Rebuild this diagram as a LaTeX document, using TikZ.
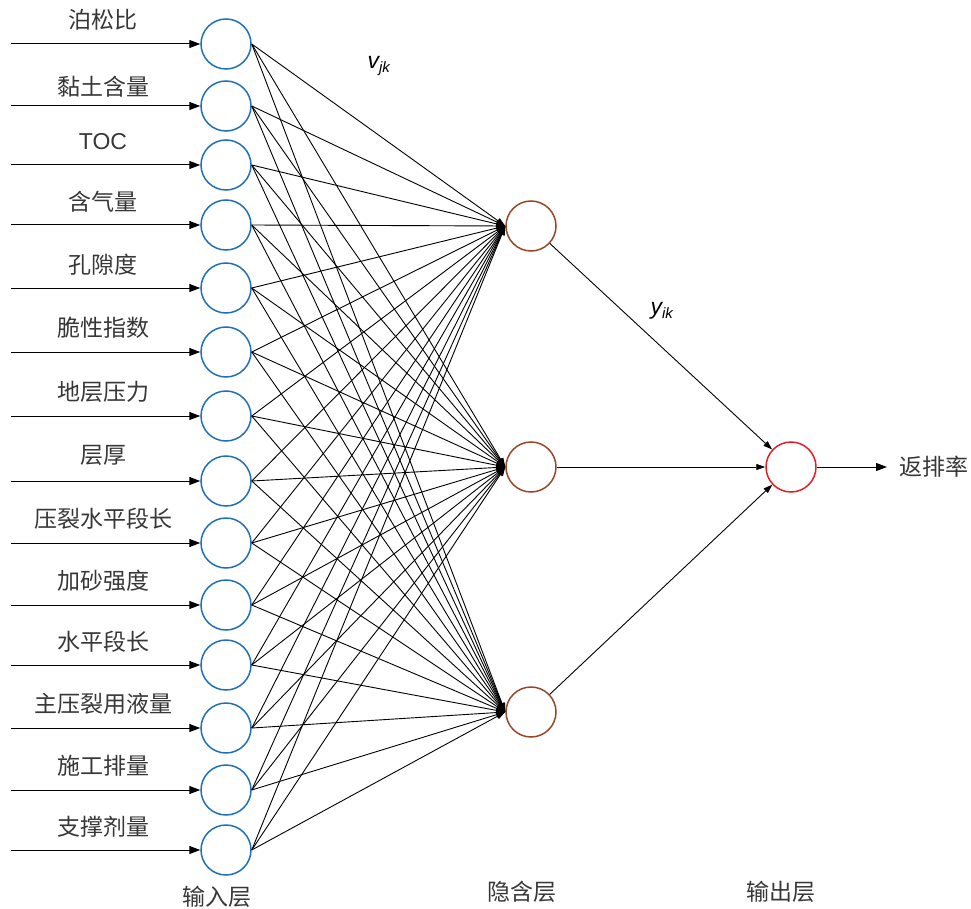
\documentclass[tikz,border=0pt]{standalone}
\usepackage{fontspec}
\setmainfont{Liberation Sans}
\newfontfamily\cjk{Noto Sans CJK SC}
\usetikzlibrary{arrows.meta}
\definecolor{inblue}{RGB}{30,112,186}
\definecolor{hidbrown}{RGB}{150,72,40}
\definecolor{outred}{RGB}{228,30,36}
\definecolor{txt}{RGB}{55,55,55}
\tikzset{
  neuron/.style={circle, minimum size=50pt, inner sep=0pt, line width=1.5pt, fill=white},
  innode/.style={neuron, draw=inblue},
  hidnode/.style={neuron, draw=hidbrown},
  outnode/.style={neuron, draw=outred},
  lbl/.style={text=txt, font=\cjk\fontsize{23}{26}\selectfont, inner sep=0pt},
  feed/.style={line width=1pt, -{Triangle[length=11pt,width=8pt]}},
  wire/.style={line width=0.9pt, -{Triangle[length=9pt,width=6pt]}},
  wlbl/.style={font=\itshape\fontsize{23}{25}\selectfont, text=black, inner sep=0pt}
}
\begin{document}
\begin{tikzpicture}[x=1pt,y=-1pt]
\useasboundingbox (0,0) rectangle (971,909);
% hidden and output
\node[hidnode] (h1) at (531,226) {};
\node[hidnode] (h2) at (531,467) {};
\node[hidnode] (h3) at (531,712) {};
\node[outnode] (o) at (791,467) {};
\coordinate (oe) at (887,467);
\node[lbl, anchor=west] (olbl) at (899,467) {返排率};
% input nodes
\foreach \n/\y/\ly/\t in {1/44/20/泊松比, 2/106/87/黏土含量, 3/165/142/{\rmfamily TOC}, 4/225/202/含气量,
  5/288/265/孔隙度, 6/352/328/脆性指数, 7/416/392/地层压力, 8/481/455/层厚,
  9/543/519/压裂水平段长, 10/605/581/加砂强度, 11/665/642/水平段长, 12/728/704/主压裂用液量,
  13/790/766/施工排量, 14/850/827/支撑剂量}{
  \node[innode] (i\n) at (226,\y) {};
  \coordinate (s\n) at (11,\y);
  \node[lbl] (t\n) at (103,\ly) {\t};
  \draw[feed] (s\n) -- (i\n);
}
\foreach \n in {1,...,14}{
  \foreach \h in {1,2,3}{
    \draw[wire] (i\n.east) -- (h\h.west);
  }
}
\foreach \h in {1,2,3}{
  \draw[wire] (h\h) -- (o);
}
\draw[feed] (o) -- (oe);
\node[wlbl] (v) at (379,66) {v\textsubscript{\fontsize{15}{16}\selectfont jk}};
\node[wlbl] (y) at (662,311) {y\textsubscript{\fontsize{15}{16}\selectfont ik}};
\node[lbl] (l1) at (217,897) {输入层};
\node[lbl] (l2) at (522,892) {隐含层};
\node[lbl] (l3) at (781,892) {输出层};
\end{tikzpicture}
\end{document}
